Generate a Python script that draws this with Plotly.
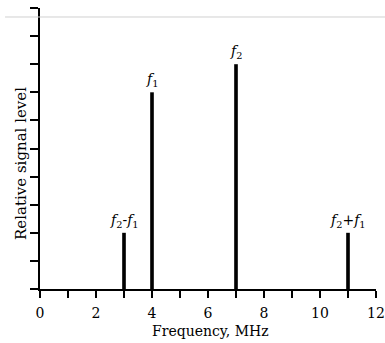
import plotly.graph_objects as go

freqs = [3, 4, 7, 11]
levels = [2, 7, 8, 2]
labels = ["<i>f</i><sub>2</sub>-<i>f</i><sub>1</sub>", "<i>f</i><sub>1</sub>",
          "<i>f</i><sub>2</sub>", "<i>f</i><sub>2</sub>+<i>f</i><sub>1</sub>"]
x_ticks = [0, 2, 4, 6, 8, 10, 12]
x_title = "Frequency, MHz"
y_title = "Relative signal level"

FONT = "DejaVu Serif"

fig = go.Figure()
fig.add_trace(go.Bar(x=freqs, y=levels, width=0.13, marker=dict(color="black", line=dict(width=0))))

for fx, fy, lab in zip(freqs, levels, labels):
    fig.add_annotation(x=fx, y=fy, text=lab, showarrow=False, yanchor="bottom", yshift=1,
                       font=dict(family=FONT, size=14, color="black"))

# axis titles
fig.add_annotation(xref="paper", yref="paper", x=0.507, y=-0.148, text=x_title, showarrow=False,
                   xanchor="center", yanchor="middle", font=dict(family=FONT, size=14, color="black"))
fig.add_annotation(xref="paper", yref="paper", x=-0.0565, y=0.445, text=y_title, showarrow=False,
                   textangle=-90, xanchor="center", yanchor="middle",
                   font=dict(family=FONT, size=15, color="black"))

fig.add_shape(type="line", xref="paper", yref="paper", x0=-0.104, x1=1.03, y0=0.968, y1=0.968,
              line=dict(color="#d0d0d0", width=1))

fig.update_layout(
    width=385, height=343,
    margin=dict(l=40, r=9, t=8, b=54),
    paper_bgcolor="white", plot_bgcolor="white",
    showlegend=False,
    font=dict(family=FONT, size=14, color="black"),
    xaxis=dict(range=[0, 12], tickmode="array", tickvals=x_ticks,
               ticktext=[str(v) for v in x_ticks],
               ticks="outside", ticklen=7, tickwidth=2, tickcolor="black",
               ticklabelstandoff=3,
               minor=dict(dtick=1, ticks="outside", ticklen=7, tickwidth=2, tickcolor="black",
                          showgrid=False),
               showline=True, linewidth=2, linecolor="black", showgrid=False, zeroline=False,
               automargin=False, tickfont=dict(size=14)),
    yaxis=dict(range=[0, 10], dtick=1, ticks="outside", ticklen=8, tickwidth=2, tickcolor="black",
               showticklabels=False, showline=True, linewidth=2, linecolor="black",
               showgrid=False, zeroline=False, automargin=False),
)

fig.write_html("out.html", config={"displayModeBar": False},
               post_script="document.body.style.margin='0';document.body.style.padding='0';")
